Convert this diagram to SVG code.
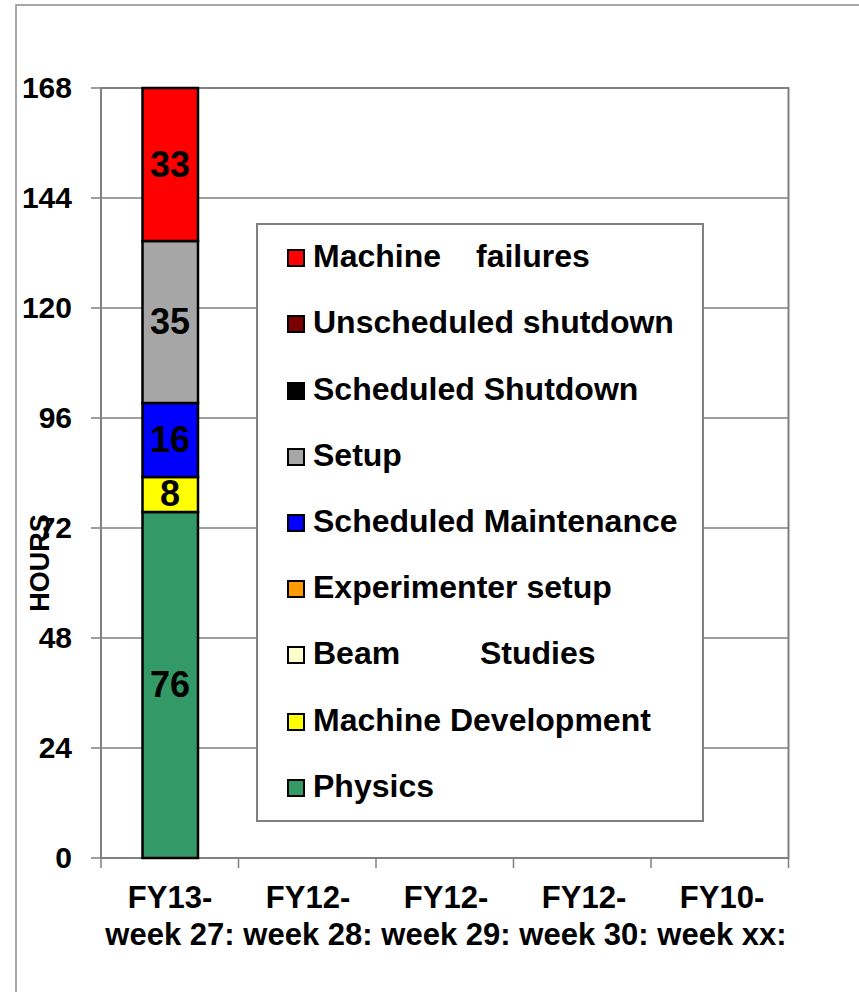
<svg xmlns="http://www.w3.org/2000/svg" width="859" height="992" viewBox="0 0 859 992">
<style>
text{font-family:"Liberation Sans",Arial,sans-serif;font-weight:bold;fill:#000}
.ax{font-size:30px;text-anchor:end}
.xl{font-size:31px;text-anchor:middle}
.bl{font-size:36px;text-anchor:middle}
.lg{font-size:32px}
.grid{stroke:#808080;stroke-width:1.5;fill:none}
.seg{stroke:#000;stroke-width:2.5}
.sw{stroke:#000;stroke-width:2}
</style>
<rect width="859" height="992" fill="#fff"/>
<g id="frame">
<polyline points="16,992 16,5 859,5" fill="none" stroke="#8c8c8c" stroke-width="1.5"/>
</g>
<g id="plot">
<rect x="101" y="88" width="687.5" height="770" fill="#fff" stroke="#808080" stroke-width="2"/>
<path class="grid" d="M101 198H788.5M101 308H788.5M101 418H788.5M101 528H788.5M101 638H788.5M101 748H788.5"/>
<path class="grid" d="M91 88H101M91 198H101M91 308H101M91 418H101M91 528H101M91 638H101M91 748H101M91 858H101"/>
<path class="grid" d="M101 858V868M238.5 858V868M376 858V868M513.5 858V868M651 858V868M788.5 858V868"/>
</g>
<g id="yaxis">
<text class="ax" x="72" y="98">168</text>
<text class="ax" x="72" y="208">144</text>
<text class="ax" x="72" y="318">120</text>
<text class="ax" x="72" y="428">96</text>
<text class="ax" x="72" y="538">72</text>
<text class="ax" x="72" y="648">48</text>
<text class="ax" x="72" y="758">24</text>
<text class="ax" x="72" y="868">0</text>
<text x="49" y="563" font-size="27" text-anchor="middle" transform="rotate(-90 49 563)">HOURS</text>
</g>
<g id="bar">
<rect class="seg" x="142.5" y="512" width="55.5" height="346" fill="#339966"/>
<rect class="seg" x="142.5" y="477" width="55.5" height="35" fill="#FFFF00"/>
<rect class="seg" x="142.5" y="403" width="55.5" height="74" fill="#0000FF"/>
<rect class="seg" x="142.5" y="241" width="55.5" height="162" fill="#A6A6A6"/>
<rect class="seg" x="142.5" y="88" width="55.5" height="153" fill="#FF0000"/>
<text class="bl" x="170" y="177">33</text>
<text class="bl" x="170" y="334">35</text>
<text class="bl" x="170" y="452">16</text>
<text class="bl" x="170" y="506">8</text>
<text class="bl" x="170" y="697">76</text>
</g>
<g id="xaxis">
<text class="xl" x="170" y="908">FY13-</text>
<text class="xl" x="170" y="945">week 27:</text>
<text class="xl" x="308" y="908">FY12-</text>
<text class="xl" x="308" y="945">week 28:</text>
<text class="xl" x="446" y="908">FY12-</text>
<text class="xl" x="446" y="945">week 29:</text>
<text class="xl" x="584" y="908">FY12-</text>
<text class="xl" x="584" y="945">week 30:</text>
<text class="xl" x="722" y="908">FY10-</text>
<text class="xl" x="722" y="945">week xx:</text>
</g>
<g id="legend">
<rect x="257" y="224" width="446" height="597" fill="#fff" stroke="#808080" stroke-width="2"/>
<rect class="sw" x="288" y="250" width="16" height="16" fill="#FF0000"/>
<text class="lg" x="313" y="267">Machine <tspan x="476">failures</tspan></text>
<rect class="sw" x="288" y="316" width="16" height="16" fill="#7A0000"/>
<text class="lg" x="313" y="333">Unscheduled shutdown</text>
<rect class="sw" x="288" y="383" width="16" height="16" fill="#000"/>
<text class="lg" x="313" y="400">Scheduled Shutdown</text>
<rect class="sw" x="288" y="449" width="16" height="16" fill="#A6A6A6"/>
<text class="lg" x="313" y="466">Setup</text>
<rect class="sw" x="288" y="515" width="16" height="16" fill="#0000FF"/>
<text class="lg" x="313" y="532">Scheduled Maintenance</text>
<rect class="sw" x="288" y="581" width="16" height="16" fill="#FF9900"/>
<text class="lg" x="313" y="598">Experimenter setup</text>
<rect class="sw" x="288" y="647" width="16" height="16" fill="#FFFFCC"/>
<text class="lg" x="313" y="664">Beam <tspan x="480">Studies</tspan></text>
<rect class="sw" x="288" y="714" width="16" height="16" fill="#FFFF00"/>
<text class="lg" x="313" y="731">Machine Development</text>
<rect class="sw" x="288" y="780" width="16" height="16" fill="#339966"/>
<text class="lg" x="313" y="797">Physics</text>
</g>
</svg>
